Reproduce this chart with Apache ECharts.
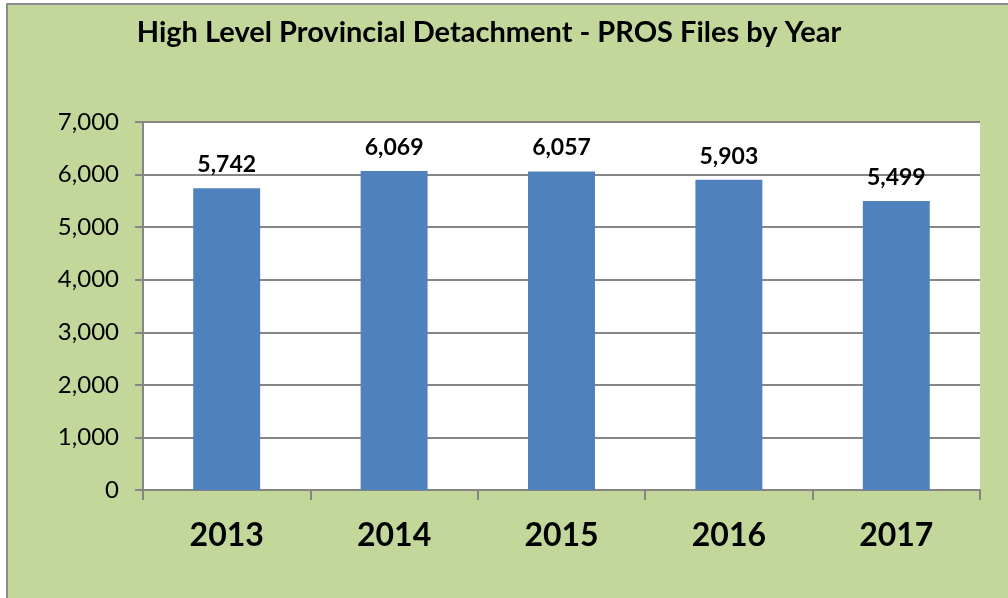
<!DOCTYPE html>
<html>
<head>
<meta charset="utf-8">
<script src="https://cdn.jsdelivr.net/npm/echarts@6/dist/echarts.min.js"></script>
<style>
    html, body { margin: 0; padding: 0; background: #ffffff; }
    #chart { width: 1008px; height: 598px; }
</style>
</head>
<body>
<div id="chart"></div>
<script>
// data
const years = ['2013', '2014', '2015', '2016', '2017']
const files = [5742, 6069, 6057, 5903, 5499]
const yTicks = { min: 0, max: 7000, interval: 1000 }

const font = 'Lato, "Open Sans", sans-serif'
const chart = echarts.init(document.getElementById('chart'))

const option = {
    animation: false,
    backgroundColor: '#ffffff',
    graphic: [
        {
            type: 'rect',
            z: -10,
            shape: { x: 7, y: 4, width: 1010, height: 600 },
            style: { fill: '#c4d79b', stroke: '#8c8c8c', lineWidth: 2 }
        },
        {
            type: 'rect',
            z: -9,
            shape: { x: 143, y: 122, width: 837, height: 368 },
            style: { fill: '#ffffff' }
        }
    ],
    title: {
        text: 'High Level Provincial Detachment - PROS Files by Year',
        left: 484,
        top: 13,
        textAlign: 'center',
        textStyle: { fontFamily: font, fontWeight: 'bold', fontSize: 29, color: '#000' }
    },
    grid: { left: 143, right: 28, top: 122, bottom: 108 },
    xAxis: {
        type: 'category',
        data: years,
        axisLine: { lineStyle: { color: '#868686', width: 2 } },
        axisTick: { show: true, length: 10, lineStyle: { color: '#868686', width: 2 } },
        axisLabel: { margin: 30, fontFamily: font, fontWeight: 'bold', fontSize: 32, color: '#000' }
    },
    yAxis: {
        type: 'value',
        min: yTicks.min,
        max: yTicks.max,
        interval: yTicks.interval,
        axisLine: { show: true, lineStyle: { color: '#868686', width: 2 } },
        axisTick: { show: true, inside: false, length: 8, lineStyle: { color: '#868686', width: 2 } },
        splitLine: { lineStyle: { color: '#868686', width: 2 } },
        axisLabel: {
            margin: 24,
            fontFamily: font,
            fontSize: 24,
            color: '#000',
            formatter: v => v.toLocaleString('en-US')
        }
    },
    series: [
        {
            type: 'bar',
            data: files,
            barWidth: '40%',
            itemStyle: { color: '#4f81bd' },
            label: {
                show: true,
                position: 'top',
                distance: 12,
                fontFamily: font,
                fontWeight: 'bold',
                fontSize: 23,
                color: '#000',
                formatter: p => p.value.toLocaleString('en-US')
            }
        }
    ]
}

chart.setOption(option)
</script>
</body>
</html>
